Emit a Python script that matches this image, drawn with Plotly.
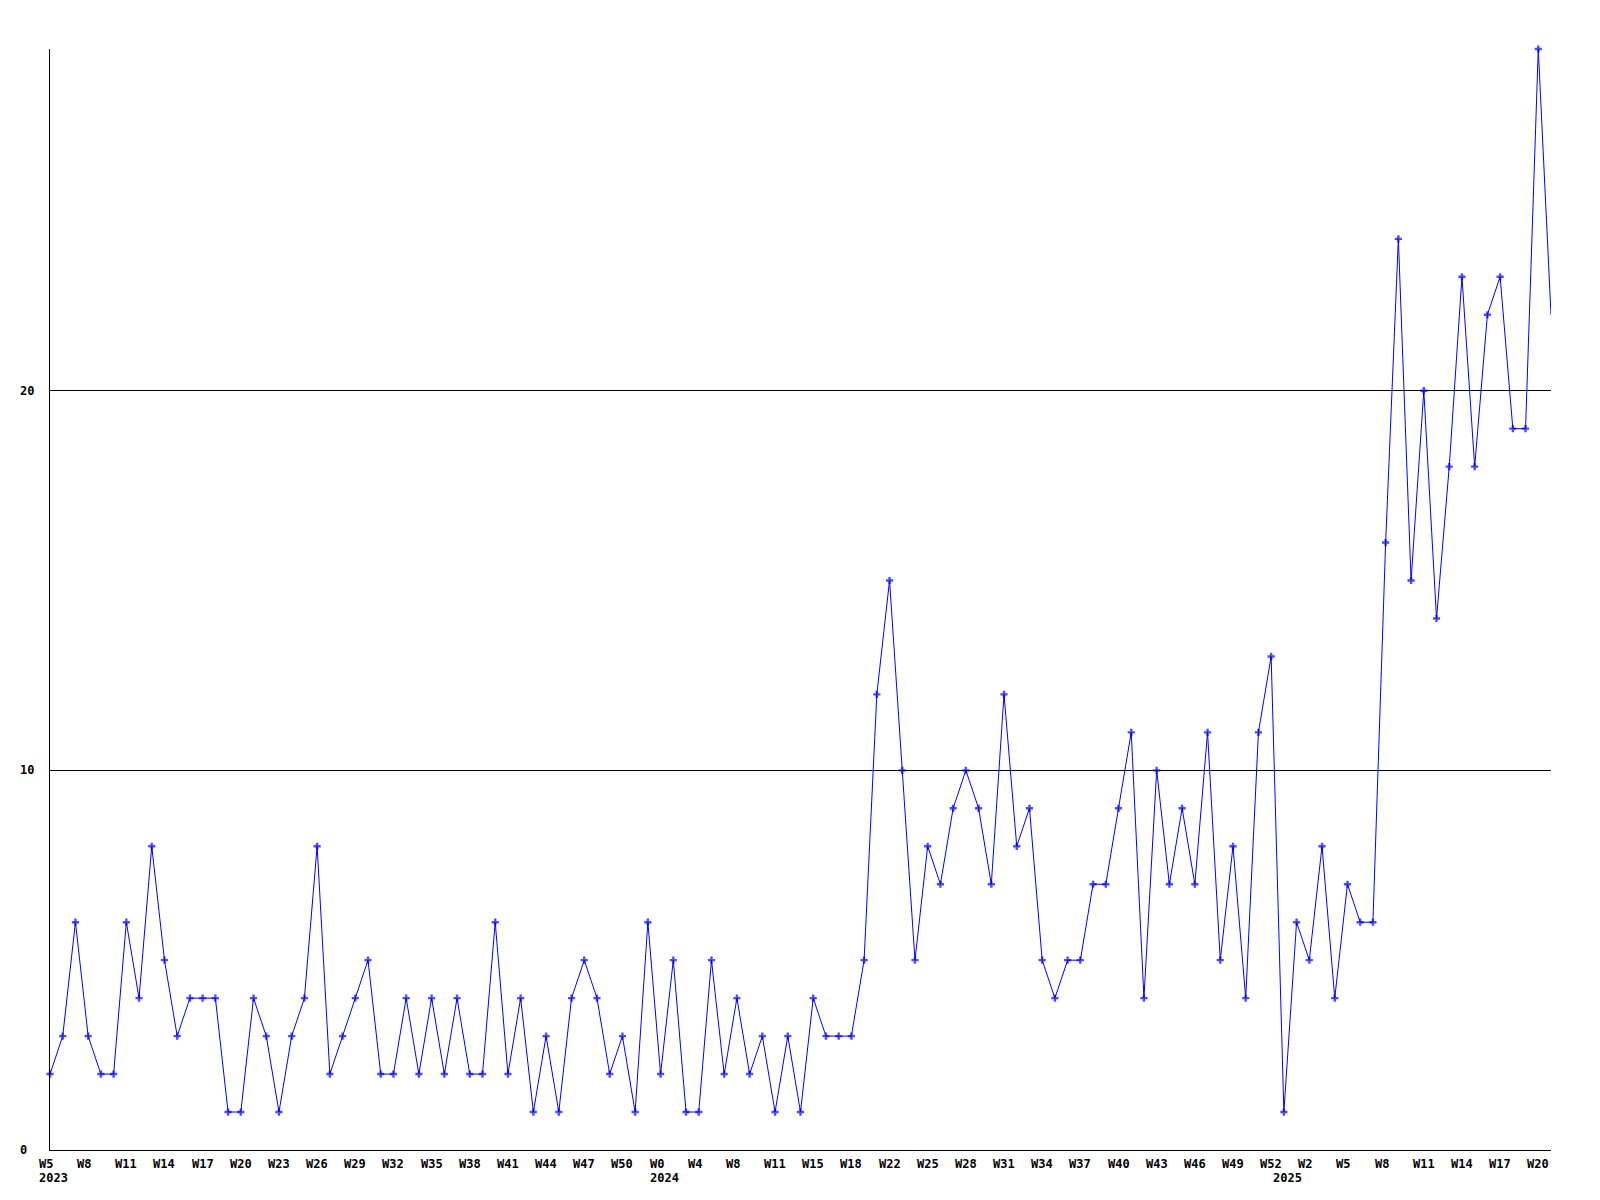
import plotly.graph_objects as go

# weekly counts, 2023 W5 .. 2025 W21 (119 weeks)
values = [
    2, 3, 6, 3, 2, 2, 6, 4, 8, 5, 3, 4, 4, 4, 1, 1, 4, 3, 1, 3, 4, 8, 2, 3, 4, 5, 2, 2, 4, 2, 4, 2,
    4, 2, 2, 6, 2, 4, 1, 3, 1, 4, 5, 4, 2, 3, 1, 6, 2, 5, 1, 1, 5, 2, 4, 2, 3, 1, 3, 1, 4, 3, 3, 3,
    5, 12, 15, 10, 5, 8, 7, 9, 10, 9, 7, 12, 8, 9, 5, 4, 5, 5, 7, 7, 9, 11, 4, 10, 7, 9, 7, 11, 5, 8, 4, 11, 13, 1, 6, 5,
    8, 4, 7, 6, 6, 16, 24, 15, 20, 14, 18, 23, 18, 22, 23, 19, 19, 29, 22,
]

tick_labels = [
    "W5", "W8", "W11", "W14", "W17", "W20", "W23", "W26", "W29", "W32", "W35", "W38", "W41",
    "W44", "W47", "W50", "W0", "W4", "W8", "W11", "W15", "W18", "W22", "W25", "W28", "W31",
    "W34", "W37", "W40", "W43", "W46", "W49", "W52", "W2", "W5", "W8", "W11", "W14", "W17", "W20",
]
tick_step = 3
year_labels = ["2023", "2024", "2025"]
year_index = [0, 48, 97]
y_ticks = [0, 10, 20]
y_max = 29

n = len(values)
x = list(range(n))
FONT = dict(family="DejaVu Sans Mono", size=12, color="black", weight="bold")

# the last point of the series is drawn without a marker in the reference
marker_sizes = [6] * (n - 1) + [0]

fig = go.Figure()
fig.add_trace(go.Scatter(
    x=x, y=values, mode="lines+markers",
    line=dict(color="#0000FF", width=1),
    marker=dict(symbol="cross", size=marker_sizes, color="#0000FF", line=dict(width=0)),
    cliponaxis=False, hoverinfo="skip",
))

annotations = []
for i, lab in enumerate(tick_labels):
    annotations.append(dict(
        x=i * tick_step, xref="x", y=0, yref="paper", text=lab, showarrow=False,
        xanchor="left", yanchor="top", xshift=-13, yshift=-5, font=FONT,
    ))
for idx, lab in zip(year_index, year_labels):
    annotations.append(dict(
        x=idx, xref="x", y=0, yref="paper", text=lab, showarrow=False,
        xanchor="left", yanchor="top", xshift=-13, yshift=-19, font=FONT,
    ))
for v in y_ticks:
    annotations.append(dict(
        x=0, xref="paper", y=v, yref="y", text=str(v), showarrow=False,
        xanchor="left", yanchor="middle", xshift=-32, font=FONT,
    ))

fig.update_layout(
    width=1600, height=1200,
    margin=dict(l=50, r=49, t=49, b=50),
    paper_bgcolor="white", plot_bgcolor="white",
    showlegend=False,
    hovermode=False,
    annotations=annotations,
    xaxis=dict(range=[0, n - 1], showgrid=False, zeroline=False,
               showticklabels=False, ticks="", showline=True, linecolor="black", linewidth=1),
    yaxis=dict(range=[0, y_max], tickvals=y_ticks[1:], showgrid=True, gridcolor="black", gridwidth=1,
               zeroline=False, showticklabels=False, ticks="", showline=True,
               linecolor="black", linewidth=1),
)

fig.write_html(
    "out.html",
    config={"displayModeBar": False, "staticPlot": True},
    post_script="document.body.style.margin='0';document.body.style.overflow='hidden';",
)
